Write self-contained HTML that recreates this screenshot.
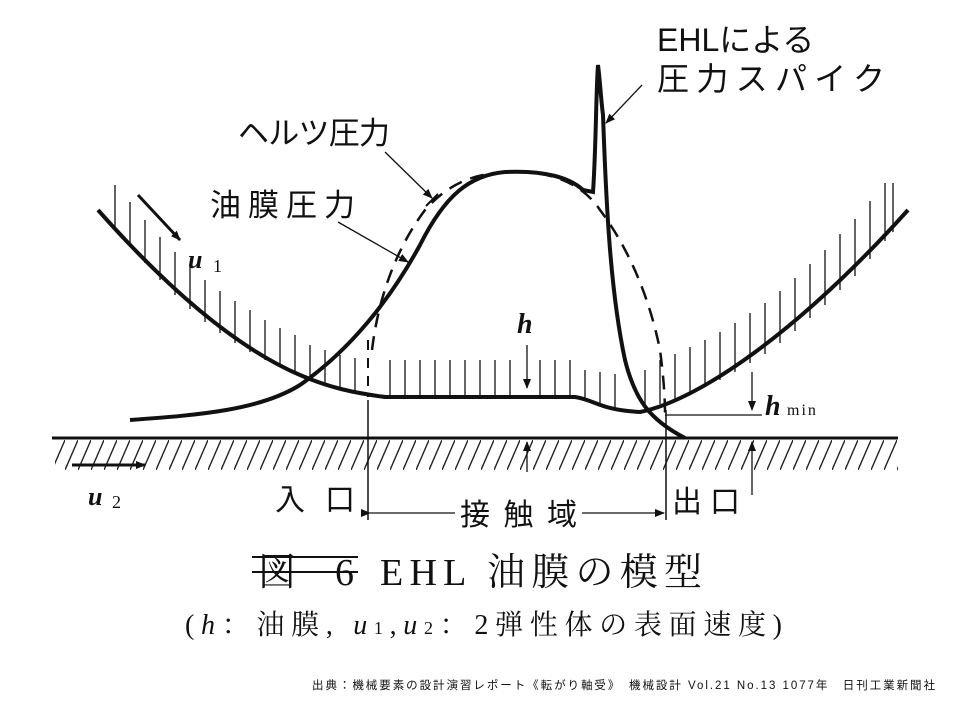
<!DOCTYPE html>
<html><head><meta charset="utf-8"><style>
html,body{margin:0;padding:0;background:#fff;}
svg{display:block;}
text{font-family:"Liberation Sans","Noto Sans CJK JP",sans-serif;fill:#111;}
.s{font-family:"Liberation Serif","Noto Serif CJK SC",serif;}
</style></head><body>
<svg width="968" height="706" viewBox="0 0 968 706" xmlns="http://www.w3.org/2000/svg">
<defs>
<pattern id="hat" patternUnits="userSpaceOnUse" width="13" height="30" patternTransform="translate(0,440)">
<line x1="0" y1="30" x2="13" y2="0" stroke="#222" stroke-width="1.4"/>
</pattern>
<marker id="ar" markerWidth="10" markerHeight="8" refX="9" refY="4" orient="auto" markerUnits="userSpaceOnUse"><path d="M0,0 L10,4 L0,8 Z" fill="#111"/></marker>
</defs>
<g stroke="#111" fill="none">
<!-- ground -->
<line x1="52" y1="438" x2="898" y2="438" stroke-width="3"/>
<rect x="55" y="440" width="843" height="30" fill="url(#hat)" stroke="none"/>
<!-- upper body -->
<path d="M98,210 C160,280 230,345 300,375 C330,388 355,393 385,397 L575,397 C595,400 600,410 640,412 C700,400 800,330 908,210" stroke-width="4"/>
<g stroke-width="1.3">
<line x1="115" y1="185" x2="115" y2="228"/><line x1="130" y1="202" x2="130" y2="245"/><line x1="145" y1="220" x2="145" y2="263"/><line x1="160" y1="237" x2="160" y2="280"/><line x1="175" y1="252" x2="175" y2="295"/><line x1="190" y1="267" x2="190" y2="309"/><line x1="205" y1="280" x2="205" y2="322"/><line x1="220" y1="291" x2="220" y2="333"/><line x1="235" y1="301" x2="235" y2="343"/><line x1="250" y1="310" x2="250" y2="352"/><line x1="265" y1="320" x2="265" y2="360"/><line x1="280" y1="328" x2="280" y2="367"/><line x1="295" y1="335" x2="295" y2="373"/><line x1="310" y1="345" x2="310" y2="378"/><line x1="325" y1="350" x2="325" y2="383"/><line x1="340" y1="355" x2="340" y2="388"/><line x1="355" y1="358" x2="355" y2="391"/>
<line x1="390" y1="360" x2="390" y2="397"/><line x1="405" y1="360" x2="405" y2="397"/><line x1="420" y1="360" x2="420" y2="397"/><line x1="435" y1="360" x2="435" y2="397"/><line x1="450" y1="360" x2="450" y2="397"/><line x1="465" y1="360" x2="465" y2="397"/><line x1="480" y1="360" x2="480" y2="397"/><line x1="495" y1="360" x2="495" y2="397"/><line x1="510" y1="360" x2="510" y2="397"/><line x1="540" y1="360" x2="540" y2="397"/><line x1="555" y1="360" x2="555" y2="397"/><line x1="570" y1="360" x2="570" y2="397"/><line x1="585" y1="370" x2="585" y2="400"/><line x1="600" y1="372" x2="600" y2="405"/><line x1="615" y1="374" x2="615" y2="409"/><line x1="645" y1="370" x2="645" y2="410"/><line x1="660" y1="360" x2="660" y2="404"/><line x1="675" y1="354" x2="675" y2="399"/><line x1="690" y1="347" x2="690" y2="393"/><line x1="705" y1="340" x2="705" y2="387"/><line x1="720" y1="332" x2="720" y2="380"/><line x1="735" y1="323" x2="735" y2="372"/><line x1="750" y1="313" x2="750" y2="363"/><line x1="765" y1="303" x2="765" y2="354"/><line x1="780" y1="291" x2="780" y2="343"/><line x1="795" y1="278" x2="795" y2="331"/><line x1="810" y1="264" x2="810" y2="318"/><line x1="825" y1="250" x2="825" y2="305"/><line x1="840" y1="234" x2="840" y2="290"/><line x1="855" y1="219" x2="855" y2="276"/><line x1="870" y1="201" x2="870" y2="259"/><line x1="885" y1="183" x2="885" y2="241"/><line x1="893" y1="183" x2="893" y2="232"/>
</g>
<!-- oil film pressure -->
<path d="M130,420 C200,415 260,410 300,385 C350,350 390,300 420,245 C445,195 470,175 505,172 C545,170 570,178 583,190 L593,192 C596,150 596,90 598,65 C600,80 601,100 603,115 C606,200 610,290 625,360 C635,400 650,420 685,438" stroke-width="4"/>
<!-- hertz dashed -->
<path d="M372,350 C378,300 395,250 425,210 C450,182 475,174 505,172 C545,170 580,180 600,210 C630,250 650,300 660,350 C664,380 665,400 665,415" stroke-width="2.5" stroke-dasharray="14,9"/>
<!-- entrance/exit lines -->
<line x1="368" y1="340" x2="368" y2="397" stroke-width="2" stroke-dasharray="10,8"/>
<line x1="368" y1="400" x2="368" y2="520" stroke-width="1.5"/>
<line x1="666" y1="410" x2="666" y2="520" stroke-width="1.5"/>
<line x1="370" y1="513" x2="455" y2="513" stroke-width="1.3" marker-start="url(#ar)"/>
<line x1="582" y1="513" x2="664" y2="513" stroke-width="1.3" marker-end="url(#ar)"/>
<!-- u1 / u2 arrows -->
<line x1="138" y1="195" x2="180" y2="240" stroke-width="3" marker-end="url(#ar)"/>
<line x1="72" y1="465" x2="145" y2="465" stroke-width="3" marker-end="url(#ar)"/>
<!-- h arrows -->
<line x1="527" y1="345" x2="527" y2="388" stroke-width="1.3" marker-end="url(#ar)"/>
<line x1="527" y1="472" x2="527" y2="442" stroke-width="1.3" marker-end="url(#ar)"/>
<line x1="752" y1="372" x2="752" y2="410" stroke-width="1.3" marker-end="url(#ar)"/>
<line x1="752" y1="495" x2="752" y2="442" stroke-width="1.3" marker-end="url(#ar)"/>
<line x1="665" y1="415" x2="762" y2="415" stroke-width="1.3"/>
<!-- label arrows -->
<line x1="642" y1="85" x2="606" y2="123" stroke-width="1.3" marker-end="url(#ar)"/>
<line x1="385" y1="152" x2="432" y2="198" stroke-width="1.3" marker-end="url(#ar)"/>
<line x1="426" y1="206" x2="438" y2="194" stroke-width="2"/>
<line x1="338" y1="222" x2="408" y2="262" stroke-width="1.3" marker-end="url(#ar)"/>
</g>
<!-- labels -->
<text x="657" y="51" font-size="32">EHLによる</text>
<text x="657" y="90" font-size="32" textLength="228">圧力スパイク</text>
<text x="238" y="144" font-size="31" textLength="152">ヘルツ圧力</text>
<text x="210" y="216" font-size="31" textLength="145">油膜圧力</text>
<text class="s" x="188" y="268" font-size="26" font-style="italic" font-weight="bold">u</text>
<text class="s" x="213" y="272" font-size="18">1</text>
<text class="s" x="88" y="505" font-size="26" font-style="italic" font-weight="bold">u</text>
<text class="s" x="112" y="508" font-size="18">2</text>
<text class="s" x="517" y="333" font-size="28" font-style="italic" font-weight="bold">h</text>
<text class="s" x="765" y="415" font-size="28" font-style="italic" font-weight="bold">h</text>
<text class="s" x="787" y="415" font-size="16" letter-spacing="2">min</text>
<text x="275" y="510" font-size="30" textLength="80">入口</text>
<text x="460" y="525" font-size="30" textLength="117">接触域</text>
<text x="672" y="512" font-size="30" textLength="68">出口</text>
<text class="s" x="258" y="585" font-size="38" textLength="96">図 6</text>
<line x1="252" y1="557" x2="358" y2="557" stroke="#111" stroke-width="2"/>
<line x1="252" y1="572" x2="358" y2="572" stroke="#111" stroke-width="2"/>
<text class="s" x="380" y="585" font-size="38" textLength="322">EHL 油膜の模型</text>
<text class="s" x="185" y="634" font-size="28" textLength="597">(<tspan font-style="italic">h</tspan>：油膜, <tspan font-style="italic">u</tspan><tspan font-size="18">1</tspan>,<tspan font-style="italic">u</tspan><tspan font-size="18">2</tspan>：2弾性体の表面速度)</text>
<text x="312" y="689" font-size="11.5" textLength="623">出典：機械要素の設計演習レポート《転がり軸受》　機械設計 Vol.21 No.13 1077年　日刊工業新聞社</text>
</svg>
</body></html>
